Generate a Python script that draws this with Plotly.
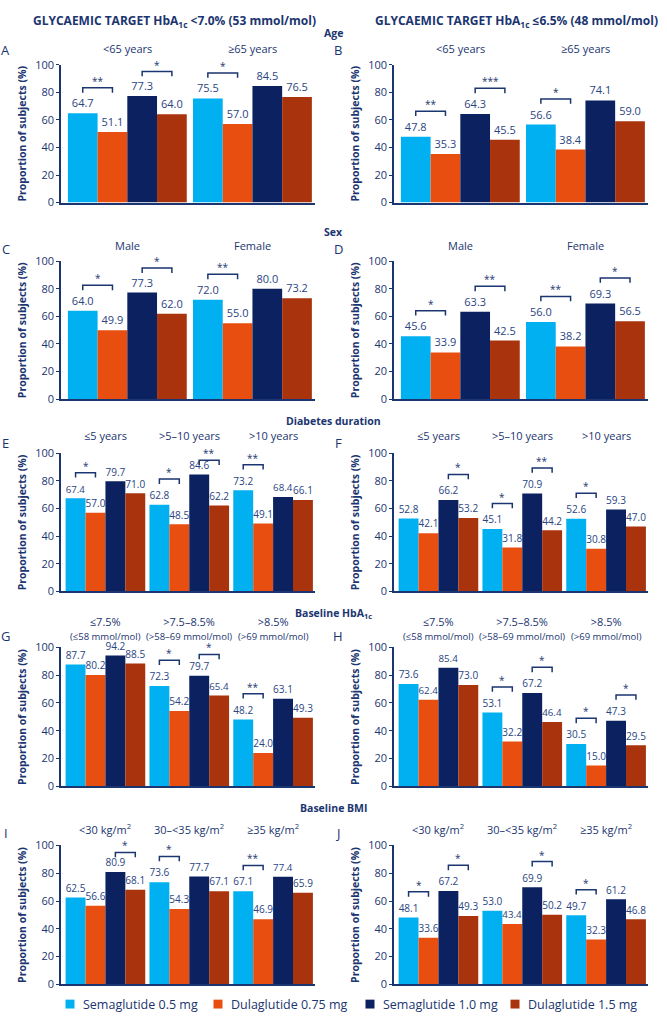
import plotly.graph_objects as go

W, H = 667, 1017

SERIES = ["Semaglutide 0.5 mg", "Dulaglutide 0.75 mg", "Semaglutide 1.0 mg", "Dulaglutide 1.5 mg"]
COLORS = ["#00B0F0", "#E84E0F", "#0B2160", "#A8330C"]
NAVY = "#1B3570"
LABEL = "#2A4482"

# ── group labels ─────────────────────────────────────────────────────────────
AGE_GROUPS = ["&lt;65 years", "≥65 years"]
SEX_GROUPS = ["Male", "Female"]
DUR_GROUPS = ["≤5 years", "&gt;5–10 years", "&gt;10 years"]
HBA_GROUPS = [
    "≤7.5%<br><span style='font-size:9.5px'>(≤58 mmol/mol)</span>",
    "&gt;7.5–8.5%<br><span style='font-size:9.5px'>(&gt;58–69 mmol/mol)</span>",
    "&gt;8.5%<br><span style='font-size:9.5px'>(&gt;69 mmol/mol)</span>",
]
BMI_GROUPS = ["&lt;30 kg/m<sup>2</sup>", "30–&lt;35 kg/m<sup>2</sup>", "≥35 kg/m<sup>2</sup>"]

# ── values (%), one list per group: Sema 0.5, Dula 0.75, Sema 1.0, Dula 1.5 ──
A_VALUES = [[64.7, 51.1, 77.3, 64.0], [75.5, 57.0, 84.5, 76.5]]
B_VALUES = [[47.8, 35.3, 64.3, 45.5], [56.6, 38.4, 74.1, 59.0]]
C_VALUES = [[64.0, 49.9, 77.3, 62.0], [72.0, 55.0, 80.0, 73.2]]
D_VALUES = [[45.6, 33.9, 63.3, 42.5], [56.0, 38.2, 69.3, 56.5]]
E_VALUES = [[67.4, 57.0, 79.7, 71.0], [62.8, 48.5, 84.6, 62.2], [73.2, 49.1, 68.4, 66.1]]
F_VALUES = [[52.8, 42.1, 66.2, 53.2], [45.1, 31.8, 70.9, 44.2], [52.6, 30.8, 59.3, 47.0]]
G_VALUES = [[87.7, 80.2, 94.2, 88.5], [72.3, 54.2, 79.7, 65.4], [48.2, 24.0, 63.1, 49.3]]
H_VALUES = [[73.6, 62.4, 85.4, 73.0], [53.1, 32.2, 67.2, 46.4], [30.5, 15.0, 47.3, 29.5]]
I_VALUES = [[62.5, 56.6, 80.9, 68.1], [73.6, 54.3, 77.7, 67.1], [67.1, 46.9, 77.4, 65.9]]
J_VALUES = [[48.1, 33.6, 67.2, 49.3], [53.0, 43.4, 69.9, 50.2], [49.7, 32.3, 61.2, 46.8]]

# ── significance: (group, pair 0=0.5/0.75 mg 1=1.0/1.5 mg, stars) ───────────
A_SIG = [(0, 0, "**"), (0, 1, "*"), (1, 0, "*")]
B_SIG = [(0, 0, "**"), (0, 1, "***"), (1, 0, "*")]
C_SIG = [(0, 0, "*"), (0, 1, "*"), (1, 0, "**")]
D_SIG = [(0, 0, "*"), (0, 1, "**"), (1, 0, "**"), (1, 1, "*")]
E_SIG = [(0, 0, "*"), (1, 0, "*"), (1, 1, "**"), (2, 0, "**")]
F_SIG = [(0, 1, "*"), (1, 0, "*"), (1, 1, "**"), (2, 0, "*")]
G_SIG = [(1, 0, "*"), (1, 1, "*"), (2, 0, "**")]
H_SIG = [(1, 0, "*"), (1, 1, "*"), (2, 0, "*"), (2, 1, "*")]
I_SIG = [(0, 1, "*"), (1, 0, "*"), (2, 0, "**")]
J_SIG = [(0, 0, "*"), (0, 1, "*"), (1, 1, "*"), (2, 0, "*")]

PANELS = [
    ("A", AGE_GROUPS, A_VALUES, A_SIG), ("B", AGE_GROUPS, B_VALUES, B_SIG),
    ("C", SEX_GROUPS, C_VALUES, C_SIG), ("D", SEX_GROUPS, D_VALUES, D_SIG),
    ("E", DUR_GROUPS, E_VALUES, E_SIG), ("F", DUR_GROUPS, F_VALUES, F_SIG),
    ("G", HBA_GROUPS, G_VALUES, G_SIG), ("H", HBA_GROUPS, H_VALUES, H_SIG),
    ("I", BMI_GROUPS, I_VALUES, I_SIG), ("J", BMI_GROUPS, J_VALUES, J_SIG),
]

TITLES = [
    "GLYCAEMIC TARGET HbA<sub>1c</sub> &lt;7.0% (53 mmol/mol)",
    "GLYCAEMIC TARGET HbA<sub>1c</sub> ≤6.5% (48 mmol/mol)",
]
SECTIONS = ["Age", "Sex", "Diabetes duration", "Baseline HbA<sub>1c</sub>", "Baseline BMI"]

# ── layout geometry (pixels) ─────────────────────────────────────────────────
COL_X = [(61, 315), (394, 648)]
ROW_Y = [(57.5, 197.5), (257, 397), (452, 592), (649, 790), (850, 991)]
SECTION_Y = [25, 227, 419, 615, 812]
GROUP_LABEL_Y = [41, 241, 434, 630, 833]
LETTER_Y = [43, 245, 442, 637, 837]
LETTER_X = [6, 338]
TITLE_X = [175, 516]
LEGEND_X = [70, 218, 370, 515]
LEGEND_Y = 1011
FONT = "Open Sans"
BW = 0.2375


def xp(px):
    return px / W


def yp(py):
    return 1 - py / H


def note(text, x, y, size, xref="paper", yref="paper", **kw):
    d = dict(text=text, x=x, y=y, xref=xref, yref=yref, showarrow=False,
             xanchor="center", yanchor="middle",
             font=dict(size=size, color=NAVY, family=FONT))
    d.update(kw)
    return d


fig = go.Figure()
annotations = []
shapes = []
layout = {}

for i, (letter, groups, values, sig) in enumerate(PANELS):
    row, col = divmod(i, 2)
    n = len(groups)
    xa = "x" if i == 0 else f"x{i + 1}"
    ya = "y" if i == 0 else f"y{i + 1}"
    xkey = "xaxis" if i == 0 else f"xaxis{i + 1}"
    ykey = "yaxis" if i == 0 else f"yaxis{i + 1}"

    for k, name in enumerate(SERIES):
        fig.add_trace(go.Bar(
            x=[g + (k - 1.5) * BW for g in range(n)],
            y=[v[k] for v in values],
            width=BW, name=name, marker=dict(color=COLORS[k], line_width=0),
            text=[f"{v[k]:.1f}" for v in values], textposition="outside",
            textfont=dict(size=11, color=LABEL, family=FONT), cliponaxis=False,
            showlegend=False, xaxis=xa, yaxis=ya,
        ))

    x0, x1 = COL_X[col]
    top, bot = ROW_Y[row]
    layout[xkey] = dict(domain=[xp(x0), xp(x1)], range=[-0.53, n - 0.5], anchor=ya,
                        showline=True, linecolor=NAVY, linewidth=1.5, showticklabels=False,
                        showgrid=False, zeroline=False, ticks="", fixedrange=True)
    layout[ykey] = dict(domain=[yp(bot), yp(top)], range=[0, 100], anchor=xa,
                        showline=True, linecolor=NAVY, linewidth=1.5, ticks="outside",
                        ticklen=3, tickcolor=NAVY, tickvals=[0, 20, 40, 60, 80, 100],
                        tickfont=dict(size=11, color=NAVY, family=FONT),
                        showgrid=False, zeroline=False)

    # y-axis title
    annotations.append(note("<b>Proportion of subjects (%)</b>", xp(x0 - 39),
                            yp((top + bot) / 2), 10.5, textangle=-90))
    # panel letter
    annotations.append(note(letter, xp(LETTER_X[col]), yp(LETTER_Y[row]), 13))
    # group labels
    for g, lab in enumerate(groups):
        annotations.append(note(lab, g, yp(GROUP_LABEL_Y[row]), 11, xref=xa))
    # significance brackets
    for g, pair, stars in sig:
        k0 = pair * 2
        v0, v1 = values[g][k0], values[g][k0 + 1]
        bx0 = g + (k0 - 1.5) * BW
        bx1 = g + (k0 + 1 - 1.5) * BW
        by = min(max(v0, v1) + 18.5, 95)
        shapes.append(dict(type="path", xref=xa, yref=ya,
                           path=f"M{bx0},{by - 3.5} L{bx0},{by} L{bx1},{by} L{bx1},{by - 3.5}",
                           line=dict(color=NAVY, width=1.5)))
        annotations.append(note(stars, (bx0 + bx1) / 2, by, 10, xref=xa, yref=ya,
                                yanchor="bottom", yshift=-2))

for c, t in enumerate(TITLES):
    annotations.append(note(f"<b>{t}</b>", xp(TITLE_X[c]), yp(13), 12))
for r, s in enumerate(SECTIONS):
    annotations.append(note(f"<b>{s}</b>", 0.5, yp(SECTION_Y[r]), 10.5))

# legend: coloured squares with labels
for k, name in enumerate(SERIES):
    lx = LEGEND_X[k]
    shapes.append(dict(type="rect", xref="paper", yref="paper",
                       x0=xp(lx - 4.5), x1=xp(lx + 4.5), y0=yp(LEGEND_Y + 4.5), y1=yp(LEGEND_Y - 4.5),
                       fillcolor=COLORS[k], line_width=0))
    annotations.append(note(name, xp(lx + 11), yp(LEGEND_Y), 12.5, xanchor="left"))

fig.update_layout(
    width=W, height=H, margin=dict(l=0, r=0, t=0, b=0),
    paper_bgcolor="white", plot_bgcolor="white", barmode="overlay",
    font=dict(family=FONT, color=NAVY), showlegend=False,
    annotations=annotations, shapes=shapes,
    **layout,
)

fig.write_html("out.html", config={"displayModeBar": False},
               post_script="document.body.style.margin='0px';")
